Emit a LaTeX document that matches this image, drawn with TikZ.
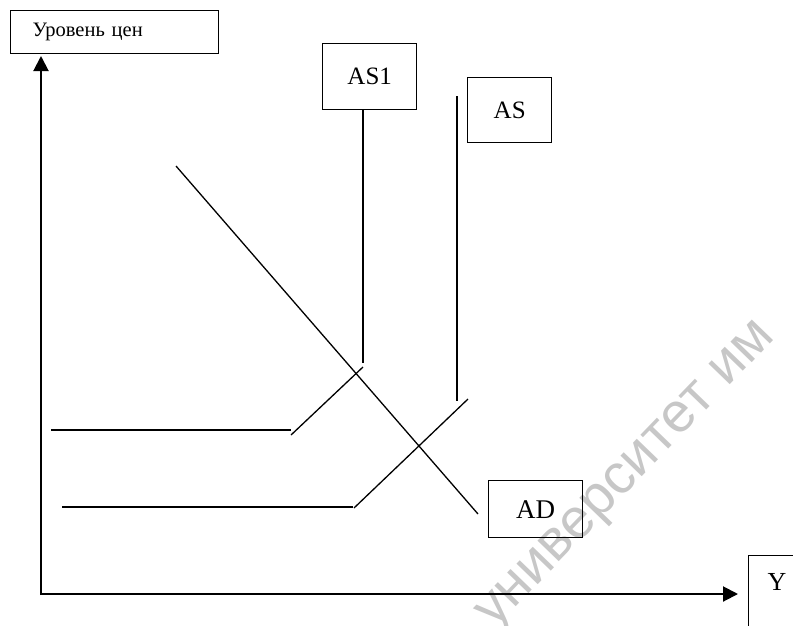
\documentclass[tikz,border=0pt]{standalone}
\usepackage{fontspec}
\setmainfont{Liberation Serif}
\newfontfamily\wmfont{Liberation Sans}
\usetikzlibrary{arrows.meta}
\begin{document}
\begin{tikzpicture}[x=1pt,y=-1pt,
  box/.style={draw,line width=1.4pt,inner sep=0pt},
  curve/.style={line width=1.3pt},
  axis/.style={line width=2pt,-{Triangle[length=15pt,width=15pt]}},
  lbl/.style={font=\fontsize{25}{25}\selectfont}]
\useasboundingbox (0,0) rectangle (793,625);
\clip (0,0) rectangle (793,625);
% watermark
\node[anchor=base west,rotate=46,text=black!22,inner sep=0pt,
  font=\wmfont\fontsize{56}{56}\selectfont] (wm) at (494,630) {университет им};
% boxes
\node[box,anchor=north west,minimum width=208pt,minimum height=43pt,
  text width=164pt,align=left,font=\fontsize{20.5}{20.5}\selectfont] (P) at (10,10) {Уровень цен};
\node[box,lbl,anchor=north west,minimum width=94pt,minimum height=66pt] (AS1) at (322,43) {AS1};
\node[box,lbl,anchor=north west,minimum width=84pt,minimum height=65pt] (AS) at (467,77) {AS};
\node[box,anchor=north west,minimum width=94pt,minimum height=57pt,
  font=\fontsize{27}{27}\selectfont] (AD) at (488,480) {AD};
\node[box,anchor=north west,minimum width=64pt,minimum height=100pt] (Ybox) at (748,555) {};
\node[font=\fontsize{26}{26}\selectfont,inner sep=0pt] (Y) at (777,582) {Y};
% axes
\coordinate (O) at (41,595);
\coordinate (Ptip) at (41,56);
\coordinate (Ytip) at (738,594);
\coordinate (Ostart) at (40,594);
\draw[axis] (O) -- (Ptip);
\draw[axis] (Ostart) -- (Ytip);
% AS1 curve
\coordinate (a1) at (51,430);
\coordinate (a2) at (291,430);
\coordinate (a3) at (291,435);
\coordinate (a4) at (363,367);
\coordinate (a5) at (363,109);
\coordinate (a6) at (363,363);
\draw[curve] (a1) -- (a2);
\draw[curve] (a3) -- (a4);
\draw[curve] (a5) -- (a6);
% AS curve
\coordinate (b1) at (62,507);
\coordinate (b2) at (353,507);
\coordinate (b3) at (354,508);
\coordinate (b4) at (468,399);
\coordinate (b5) at (457,96);
\coordinate (b6) at (457,401);
\draw[curve] (b1) -- (b2);
\draw[curve] (b3) -- (b4);
\draw[curve] (b5) -- (b6);
% AD line
\coordinate (d1) at (176,166);
\coordinate (d2) at (478,514);
\draw[curve] (d1) -- (d2);
\end{tikzpicture}
\end{document}
